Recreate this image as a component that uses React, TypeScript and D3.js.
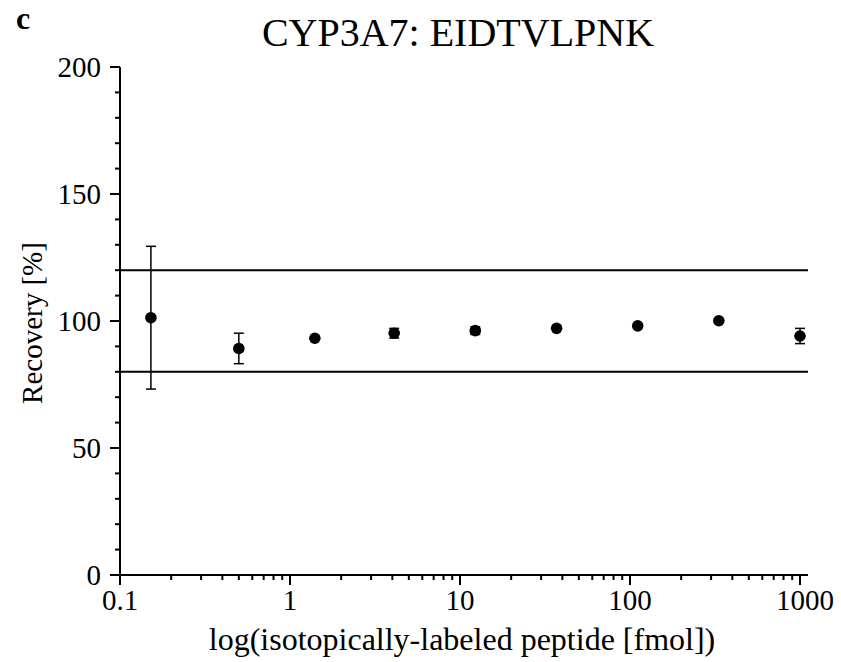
import React from "react";
import * as d3 from "d3";

const amounts = [0.152, 0.5, 1.4, 4.1, 12.3, 37, 111, 333, 1000];
const recovery = [101.3, 89.2, 93.2, 95.2, 96.2, 97.1, 98.1, 100.1, 94.1];
const errors = [28.1, 6.0, 1.0, 1.9, 1.5, 0.8, 0.8, 0.6, 3.0];
const xTickLabels = ["0.1", "1", "10", "100", "1000"];
const yTicks = [0, 50, 100, 150, 200];
const limits = [80, 120];

const W = 841, H = 662;
const FONT = "'Liberation Serif', 'DejaVu Serif', serif";

export default function App() {
  const x = d3.scaleLog().domain([0.1, 1000]).range([120, 800]);
  const y = d3.scaleLinear().domain([0, 200]).range([575, 67]);
  const xMajor = xTickLabels.map(Number);
  const xMinor: number[] = [];
  for (let d = 0.1; d < 1000; d *= 10) {
    for (let k = 2; k <= 9; k++) xMinor.push(d * k);
  }
  const yMinor = d3.range(0, 201, 10).filter((v) => v % 50 !== 0);
  const xEnd = 808;

  return (
    <svg width={W} height={H} style={{ position: "absolute", left: 0, top: 0, background: "#fff" }}>
      <text x={16} y={29} fontFamily={FONT} fontWeight="bold" fontSize={32} fill="#000">c</text>
      <text x={458} y={46} textAnchor="middle" fontFamily={FONT} fontSize={40} fill="#000">
        CYP3A7: EIDTVLPNK
      </text>

      {/* limit lines */}
      {limits.map((l) => (
        <line key={l} x1={x(0.1)} x2={xEnd} y1={y(l)} y2={y(l)} stroke="#000" strokeWidth={2} />
      ))}

      {/* axes */}
      <line x1={x(0.1)} x2={x(0.1)} y1={y(200)} y2={y(0)} stroke="#000" strokeWidth={2} />
      <line x1={110} x2={xEnd} y1={y(0)} y2={y(0)} stroke="#000" strokeWidth={2} />
      {yTicks.map((t) => (
        <g key={"y" + t}>
          <line x1={110} x2={120} y1={y(t)} y2={y(t)} stroke="#000" strokeWidth={2} />
          <text x={101} y={y(t)} dy="0.35em" textAnchor="end" fontFamily={FONT} fontSize={29}>{t}</text>
        </g>
      ))}
      {yMinor.map((t) => (
        <line key={"ym" + t} x1={115} x2={120} y1={y(t)} y2={y(t)} stroke="#000" strokeWidth={2} />
      ))}
      {xMajor.map((t, i) => (
        <g key={"x" + t}>
          <line x1={x(t)} x2={x(t)} y1={575} y2={585} stroke="#000" strokeWidth={2} />
          <text x={x(t) + (i === xMajor.length - 1 ? 5 : 0)} y={610} textAnchor="middle" fontFamily={FONT} fontSize={29}>
            {xTickLabels[i]}
          </text>
        </g>
      ))}
      {xMinor.map((t, i) => (
        <line key={"xm" + i} x1={x(t)} x2={x(t)} y1={575} y2={580} stroke="#000" strokeWidth={2} />
      ))}

      <text x={462} y={650} textAnchor="middle" fontFamily={FONT} fontSize={32}>
        log(isotopically-labeled peptide [fmol])
      </text>
      <text transform={`translate(42,323) rotate(-90)`} textAnchor="middle" fontFamily={FONT} fontSize={29}>
        Recovery [%]
      </text>

      {/* data */}
      {amounts.map((a, i) => (
        <g key={"p" + i}>
          {errors[i] > 2 && (
            <g stroke="#000" strokeWidth={1.5}>
              <line x1={x(a)} x2={x(a)} y1={y(recovery[i] + errors[i])} y2={y(recovery[i] - errors[i])} />
              <line x1={x(a) - 5} x2={x(a) + 5} y1={y(recovery[i] + errors[i])} y2={y(recovery[i] + errors[i])} />
              <line x1={x(a) - 5} x2={x(a) + 5} y1={y(recovery[i] - errors[i])} y2={y(recovery[i] - errors[i])} />
            </g>
          )}
          {errors[i] <= 2 && errors[i] > 1.2 && (
            <g stroke="#000" strokeWidth={1.5}>
              <line x1={x(a) - 5} x2={x(a) + 5} y1={y(recovery[i] + errors[i])} y2={y(recovery[i] + errors[i])} />
              <line x1={x(a) - 5} x2={x(a) + 5} y1={y(recovery[i] - errors[i])} y2={y(recovery[i] - errors[i])} />
            </g>
          )}
          <circle cx={x(a)} cy={y(recovery[i])} r={5.8} fill="#000" />
        </g>
      ))}
    </svg>
  );
}
